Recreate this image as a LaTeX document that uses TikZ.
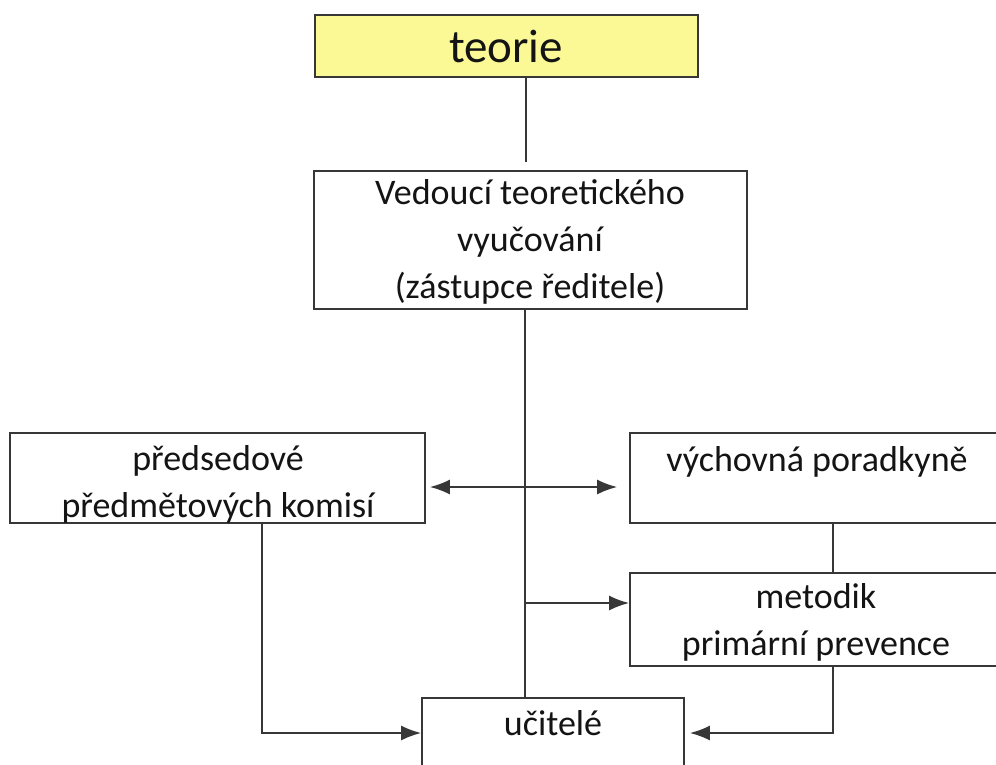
\documentclass[tikz,border=0pt]{standalone}
\usepackage{fontspec}
\setmainfont{Carlito}
\usetikzlibrary{arrows.meta}
\definecolor{boxyellow}{RGB}{250,249,150}
\definecolor{linegray}{RGB}{55,55,55}
\definecolor{txt}{RGB}{20,20,20}
\begin{document}
\begin{tikzpicture}[x=1pt,y=-1pt,
  box/.style={draw=linegray,line width=1.8pt,rectangle,inner sep=0pt,fill=white},
  lbl/.style={text=txt,align=center,inner sep=0pt,font=\fontsize{36}{47}\selectfont},
  conn/.style={draw=linegray,line width=1.8pt},
  arr/.style={conn,-{Latex[length=20pt,width=15pt]}},
  darr/.style={conn,{Latex[length=20pt,width=15pt]}-{Latex[length=20pt,width=15pt]}}]
\useasboundingbox (0,0) rectangle (996,764);
\fill[white] (0,0) rectangle (996,764);
\begin{scope}
\clip (0,0) rectangle (996,764);
% boxes
\node[box,fill=boxyellow,minimum width=383pt,minimum height=62pt] (teorie) at (506.5,46) {};
\node[box,minimum width=433pt,minimum height=138pt] (ved) at (530.5,240) {};
\node[box,minimum width=415pt,minimum height=90pt] (pred) at (217.5,478) {};
\node[box,minimum width=375pt,minimum height=90pt] (vych) at (817.5,478) {};
\node[box,minimum width=375pt,minimum height=93pt] (met) at (817.5,619.5) {};
\node[box,minimum width=262pt,minimum height=110pt] (uci) at (553,753) {};
% texts
\node[lbl,font=\fontsize{47}{56}\selectfont] (tTeorie) at (506,46) {teorie};
\node[lbl] (tVed) at (530,242) {Vedoucí teoretického\\vyučování\\(zástupce ředitele)};
\node[lbl] (tPred) at (218,484) {předsedové\\předmětových komisí};
\node[lbl] (tVych) at (817,462) {výchovná poradkyně};
\node[lbl] (tMet) at (816,622) {metodik\\primární prevence};
\node[lbl] (tUci) at (553,723) {učitelé};
% helper coordinates
\coordinate (cx) at (526,0);
\coordinate (mx) at (525,0);
\coordinate (px) at (262,0);
\coordinate (rx) at (833,0);
\coordinate (ylow) at (0,733);
\coordinate (ymid) at (0,487);
\coordinate (ymet) at (0,603);
\coordinate (gapTop) at (526,162);
\coordinate (branch) at (525,603);
\coordinate (pcorner) at (262,733);
\coordinate (mcorner) at (833,733);
% connectors
\draw[conn] (teorie.south -| cx) -- (gapTop);
\draw[conn] (ved.south -| mx) -- (uci.north -| mx);
\draw[darr] ([xshift=4pt]pred.east |- ymid) -- ([xshift=-12pt]vych.west |- ymid);
\draw[conn] (vych.south -| rx) -- (met.north -| rx);
\draw[arr] (branch) -- (met.west |- ymet);
\draw[arr] (pred.south -| px) -- (pcorner) -- (uci.west |- ylow);
\draw[arr] (met.south -| rx) -- (mcorner) -- ([xshift=5pt]uci.east |- ylow);
\end{scope}
\end{tikzpicture}
\end{document}
